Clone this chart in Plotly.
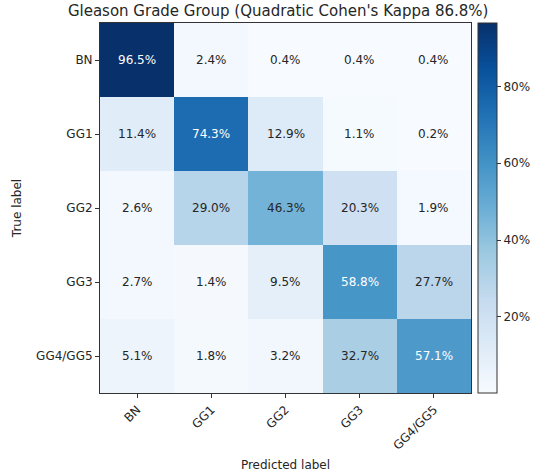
import plotly.graph_objects as go

labels = ["BN", "GG1", "GG2", "GG3", "GG4/GG5"]
values = [
    [96.5, 2.4, 0.4, 0.4, 0.4],
    [11.4, 74.3, 12.9, 1.1, 0.2],
    [2.6, 29.0, 46.3, 20.3, 1.9],
    [2.7, 1.4, 9.5, 58.8, 27.7],
    [5.1, 1.8, 3.2, 32.7, 57.1],
]
title = "Gleason Grade Group (Quadratic Cohen's Kappa 86.8%)"

blues = [
    [0.0, "#f7fbff"], [0.125, "#deebf7"], [0.25, "#c6dbef"], [0.375, "#9ecae1"],
    [0.5, "#6baed6"], [0.625, "#4292c6"], [0.75, "#2171b5"], [0.875, "#08519c"],
    [1.0, "#08306b"],
]

zmin = min(min(r) for r in values)
zmax = max(max(r) for r in values)
thresh = zmax / 2.0
txt = "#262626"

fig = go.Figure()
fig.add_trace(go.Heatmap(
    z=values, x=labels, y=labels,
    colorscale=blues, zmin=zmin, zmax=zmax,
    xgap=0, ygap=0,
    colorbar=dict(
        tickvals=[20, 40, 60, 80], ticktext=["20%", "40%", "60%", "80%"],
        ticks="outside", ticklen=4, tickcolor="#333",
        thickness=19, len=1.0, lenmode="fraction", y=0.5, yanchor="middle",
        x=1.019, xanchor="left", xpad=0, ypad=0,
        outlinewidth=1, outlinecolor="#333",
        tickfont=dict(family="DejaVu Sans", size=12, color=txt),
    ),
    hoverinfo="skip",
))

for i, row in enumerate(values):
    for j, v in enumerate(row):
        fig.add_annotation(
            x=labels[j], y=labels[i], text=f"{v:.1f}%", showarrow=False,
            font=dict(family="DejaVu Sans", size=12,
                      color="white" if v > thresh else txt),
        )

fig.update_layout(
    width=535, height=475,
    margin=dict(l=100, r=64, t=23, b=82, autoexpand=False),
    paper_bgcolor="white", plot_bgcolor="white",
    title=dict(text=title, x=0.52, xanchor="center", y=0.977, yanchor="middle",
               font=dict(family="DejaVu Sans", size=15, color=txt)),
    font=dict(family="DejaVu Sans", size=12, color=txt),
)
fig.update_xaxes(
    type="category", tickangle=-45, ticks="outside", ticklen=4, tickcolor="#333",
    showline=True, linecolor="#333", linewidth=1, mirror=True,
    title=dict(text="Predicted label", font=dict(size=12), standoff=8),
    tickfont=dict(size=12), showgrid=False, zeroline=False, automargin=False,
)
fig.update_yaxes(
    type="category", autorange="reversed", ticks="outside", ticklen=4, tickcolor="#333",
    showline=True, linecolor="#333", linewidth=1, mirror=True,
    title=dict(text="True label", font=dict(size=12), standoff=11),
    tickfont=dict(size=12), showgrid=False, zeroline=False, automargin=False,
)

fig.write_html("out.html", config={"displayModeBar": False},
               post_script="document.body.style.margin='0';")
